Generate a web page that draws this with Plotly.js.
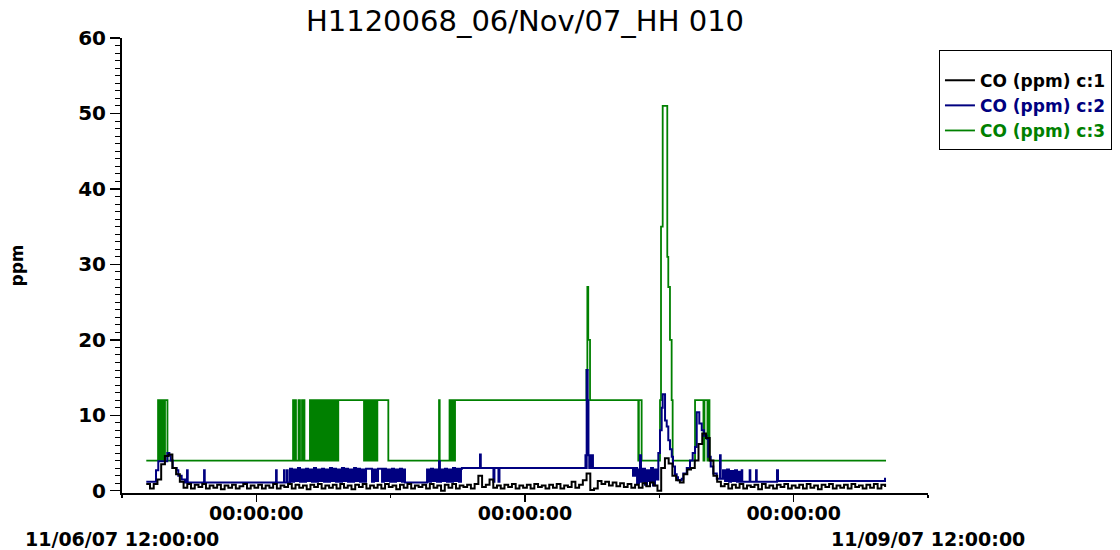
<!DOCTYPE html>
<html><head><meta charset="utf-8">
<script src="https://cdn.plot.ly/plotly-3.0.1.min.js"></script>
<style>html,body{margin:0;padding:0;background:#fff}#chart{width:1120px;height:550px}</style>
</head><body><div id="chart"></div>
<script>
// ---- data ----
const startTime = '2007-11-06T12:00:00';          // hour offsets below are counted from here
const axisStart = '2007-11-06 12:00:00';
const axisEnd = '2007-11-09 12:00:00';
const midnightTicks = ['2007-11-07 00:00:00', '2007-11-08 00:00:00', '2007-11-09 00:00:00'];
const midnightLabels = ['00:00:00', '00:00:00', '00:00:00'];
const noonTicks = ['2007-11-06 12:00:00', '2007-11-07 12:00:00', '2007-11-08 12:00:00', '2007-11-09 12:00:00'];
const endLabels = ['11/06/07 12:00:00', '11/09/07 12:00:00'];
const seriesNames = ['CO (ppm) c:1', 'CO (ppm) c:2', 'CO (ppm) c:3'];
const seriesColors = ['#000000', '#000080', '#008000'];

// c:1 logged every 20 minutes from 14:10 on 11/06
const c1First = '2007-11-06T14:10:00';
const c1StepMinutes = 20;
const c1Values = [
  0.9,0.3,0.9,1.5,3.5,4.6,4.8,3.0,2.2,1.2,
  0.4,0.9,0.3,0.8,0.5,0.9,0.3,0.7,0.4,0.8,
  0.2,0.7,0.4,0.8,0.3,0.6,0.9,0.3,0.7,0.4,
  0.8,0.3,0.7,0.4,0.9,0.3,0.7,0.5,0.9,0.3,
  0.8,0.4,0.7,0.2,0.8,0.5,0.9,0.3,0.7,0.4,
  0.8,0.3,0.9,0.4,0.7,0.2,0.8,0.5,0.9,0.3,
  0.7,0.4,0.8,0.3,0.9,0.5,0.7,0.2,0.8,0.4,
  0.9,0.3,0.7,0.5,0.8,0.3,0.9,0.4,0.7,0.0,
  0.8,0.4,0.9,0.3,0.7,0.5,0.8,0.3,0.9,2.0,
  0.5,0.8,1.5,0.4,0.7,0.3,0.8,0.5,0.9,0.3,
  0.7,0.4,0.8,0.3,0.9,0.5,0.7,0.3,0.8,0.4,
  0.9,0.3,0.7,0.5,1.2,0.4,
  0.8,1.4,2.3,0.1,0.3,1.3,0.9,1.2,0.7,1.1,
  0.6,1.0,0.5,0.9,0.4,0.8,0.4,1.0,0.6,1.1,
  0.7,0.0,3.0,4.3,3.6,2.0,1.4,1.1,2.2,2.8,
  3.0,4.0,6.2,7.6,7.0,4.0,2.0,1.2,0.6,
  0.9,0.3,0.8,0.4,0.9,0.3,0.7,0.5,0.8,0.2,
  0.9,0.4,0.7,0.3,0.8,0.5,0.9,0.3,0.7,0.4,
  0.8,0.3,0.9,0.4,0.7,0.2,0.8,0.5,0.9,0.3,
  0.7,0.4,0.8,0.3,0.9,0.5,0.7,0.3,0.8,0.4,
  0.9,0.3,0.8,0.5
];

// c:2 change points (hours after 11/06 12:00) and values
const c2Hours = [
  2.17,3.04,3.24,4.05,4.23,4.35,4.53,4.89,5.03,5.33,5.63,5.81,5.87,7.33,7.39,
  13.76,13.82,14.47,14.53,14.74,14.80,
  15.01,15.19,15.37,15.54,15.72,15.90,16.08,16.26,16.44,16.62,16.79,16.97,17.15,17.33,
  17.51,17.69,17.87,18.05,18.22,18.40,18.58,18.76,18.94,19.12,19.30,19.47,19.65,19.83,
  20.01,20.19,20.37,20.55,20.73,20.90,21.08,21.26,21.44,21.62,21.80,22.33,22.51,22.69,
  22.87,23.23,23.40,23.58,23.76,23.94,24.12,24.30,24.48,24.66,24.83,25.01,25.19,25.28,
  27.25,27.42,27.60,27.78,27.96,28.14,28.32,28.40,28.50,28.68,28.85,29.03,29.21,29.39,
  29.57,29.75,29.93,30.10,30.28,30.37,
  31.98,32.05,33.18,33.27,33.63,33.72,
  41.40,41.45,41.51,41.60,41.67,41.74,41.81,41.90,41.99,42.07,
  45.65,45.83,46.01,46.18,46.27,46.36,46.54,46.72,46.90,47.08,47.26,47.43,47.61,47.79,
  47.91,48.06,48.21,48.30,48.51,48.66,48.80,48.95,49.11,49.22,49.40,49.55,49.67,50.00,
  50.14,50.45,50.74,50.98,51.19,51.34,51.57,51.79,51.99,52.23,52.37,52.59,52.82,53.13,
  53.42,53.48,53.69,53.87,54.05,54.22,54.40,54.58,54.76,54.94,55.12,55.21,55.36,55.41,
  56.07,56.13,56.64,56.70,58.51,58.60,68.16,68.25
];
const c2Values = [
  1.2,2.7,3.9,5.0,4.7,4.0,3.0,2.7,2.0,1.5,1.1,2.7,1.1,2.7,1.1,
  2.7,1.1,2.7,1.1,2.7,1.1,
  2.9,1.2,2.8,1.3,3.0,1.2,2.8,1.2,2.9,1.3,2.8,1.2,3.0,1.2,
  2.8,1.3,2.9,1.2,2.8,1.2,3.0,1.3,2.9,1.2,2.8,1.2,3.0,1.3,
  2.9,1.2,2.8,1.2,3.0,1.3,2.9,1.2,2.8,1.2,2.9,1.2,2.8,1.3,
  2.9,1.2,2.9,1.3,2.8,1.2,2.9,1.2,2.8,1.3,2.9,1.2,2.8,1.1,
  2.8,1.2,2.9,1.3,2.8,1.2,3.9,1.2,2.8,1.3,2.9,1.2,2.8,1.2,
  3.0,1.3,2.9,1.2,2.9,3.0,
  4.8,3.0,1.2,3.0,1.2,3.0,
  4.7,3.0,16,12,4.7,3.0,4.7,3.0,4.7,3.0,
  2.0,3.0,1.0,2.8,4.7,1.2,2.9,0.8,2.7,1.3,3.0,0.7,2.8,1.5,
  5.0,8.0,11.0,12.8,9.3,8.5,6.7,5.5,4.5,3.2,2.2,1.8,1.4,1.6,
  2.3,3.0,4.0,5.0,5.8,10.4,8.9,8.0,7.3,6.9,4.5,3.2,2.3,1.6,
  4.7,1.6,2.7,1.3,2.8,1.2,2.6,1.3,2.7,1.2,2.5,1.2,2.7,1.2,
  2.7,1.2,2.7,1.2,2.7,1.3,1.6,1.6
];

// c:3 change points (hours after 11/06 12:00) and values
const c3Hours = [
  2.17,3.22,3.31,3.35,3.44,3.48,3.57,3.62,3.70,3.84,4.06,
  15.28,15.37,15.45,15.54,15.77,15.90,16.08,16.17,16.26,16.30,
  16.79,16.88,16.97,17.06,17.15,17.24,17.33,17.42,17.51,17.60,17.69,17.78,17.87,17.96,
  18.05,18.13,18.22,18.31,18.40,18.49,18.58,18.67,18.76,18.85,18.94,19.03,19.12,19.21,19.32,
  21.62,21.71,21.80,21.89,21.98,22.07,22.15,22.24,22.33,22.42,22.51,22.60,22.69,22.81,23.79,
  28.32,28.38,29.26,29.35,29.44,29.52,29.61,29.70,29.75,
  41.49,41.57,41.65,41.81,46.12,46.17,46.42,
  48.06,48.15,48.30,48.71,48.80,48.95,49.10,49.19,
  51.19,51.94,52.03,52.30,52.39,52.48,68.25
];
const c3Values = [
  4,12,4,12,4,12,4,12,4,12,4,
  12,4,12,4,12,4,12,4,12,4,
  12,4,12,4,12,4,12,4,12,4,12,4,12,4,
  12,4,12,4,12,4,12,4,12,4,12,4,12,4,12,
  4,12,4,12,4,12,4,12,4,12,4,12,4,12,4,
  12,4,12,4,12,4,12,4,12,
  16,27,20,12,4,12,4,
  12,35,51,31,27,20,12,4,
  12,4,12,4,12,4,4
];

// ---- helpers (unit conversion only) ----
const base = Date.parse(startTime + 'Z');
const fmt = ms => new Date(ms).toISOString().slice(0, 19).replace('T', ' ');
const fromHours = hs => hs.map(h => fmt(base + h * 3600000));
const c1Base = Date.parse(c1First + 'Z');
const c1Times = c1Values.map((_, i) => fmt(c1Base + i * c1StepMinutes * 60000));

const FONT = 'DejaVu Sans';
const legendName = (i) => '<span style="color:' + seriesColors[i] + '">' + seriesNames[i] + '</span>';

const mk = (x, y, i, w) => ({
  type: 'scatter', mode: 'lines', x: x, y: y, name: legendName(i),
  line: {color: seriesColors[i], width: w, shape: 'hv'}
});

// drawn green first, black last; legend reversed to read c:1, c:2, c:3
const traces = [
  mk(fromHours(c3Hours), c3Values, 2, 1.8),
  mk(fromHours(c2Hours), c2Values, 1, 2),
  mk(c1Times, c1Values, 0, 2)
];

const boldFont = (s) => ({family: FONT, size: s, color: '#000', weight: 'bold'});

const layout = {
  width: 1120, height: 550,
  paper_bgcolor: '#fff', plot_bgcolor: '#fff',
  margin: {l: 122, r: 192, t: 38, b: 57, autoexpand: false},
  showlegend: true,
  title: {
    text: 'H1120068_06/Nov/07_HH 010',
    font: {family: FONT, size: 29, color: '#000'},
    x: 0.5, xref: 'paper', xanchor: 'center',
    y: 0.963, yref: 'container', yanchor: 'middle'
  },
  xaxis: {
    type: 'date', range: [axisStart, axisEnd],
    tickmode: 'array', tickvals: midnightTicks, ticktext: midnightLabels,
    ticks: 'outside', ticklen: 7, tickwidth: 1.5, tickcolor: '#000',
    ticklabelstandoff: -5,
    minor: {tickmode: 'array', tickvals: noonTicks, ticks: 'outside', ticklen: 3, tickwidth: 1.5, tickcolor: '#000', showgrid: false},
    showline: true, linecolor: '#000', linewidth: 2,
    showgrid: false, zeroline: false,
    tickfont: boldFont(19), automargin: false
  },
  yaxis: {
    range: [-0.3, 60], tickmode: 'linear', tick0: 0, dtick: 10,
    ticks: 'outside', ticklen: 10, tickwidth: 1.5, tickcolor: '#000',
    minor: {dtick: 1, tick0: 0, ticks: 'outside', ticklen: 5, tickwidth: 1, tickcolor: '#000', showgrid: false},
    showline: true, linecolor: '#000', linewidth: 2,
    showgrid: false, zeroline: false,
    tickfont: boldFont(20), automargin: false,
    title: {text: 'ppm', font: boldFont(17), standoff: 50}
  },
  legend: {
    x: 1.0136, y: 0.9736, xanchor: 'left', yanchor: 'top',
    bordercolor: '#000', borderwidth: 1, bgcolor: '#fff',
    font: boldFont(17), traceorder: 'reversed',
    title: {text: ' ', font: {family: FONT, size: 9}},
    tracegroupgap: 0
  },
  annotations: [
    {x: axisStart, xref: 'x', y: 0, yref: 'paper', yanchor: 'top', xanchor: 'center', yshift: -33,
     text: endLabels[0], showarrow: false, font: boldFont(19)},
    {x: axisEnd, xref: 'x', y: 0, yref: 'paper', yanchor: 'top', xanchor: 'center', yshift: -33,
     text: endLabels[1], showarrow: false, font: boldFont(19)}
  ]
};

Plotly.newPlot('chart', traces, layout, {displayModeBar: false, staticPlot: true});
</script>
</body></html>
